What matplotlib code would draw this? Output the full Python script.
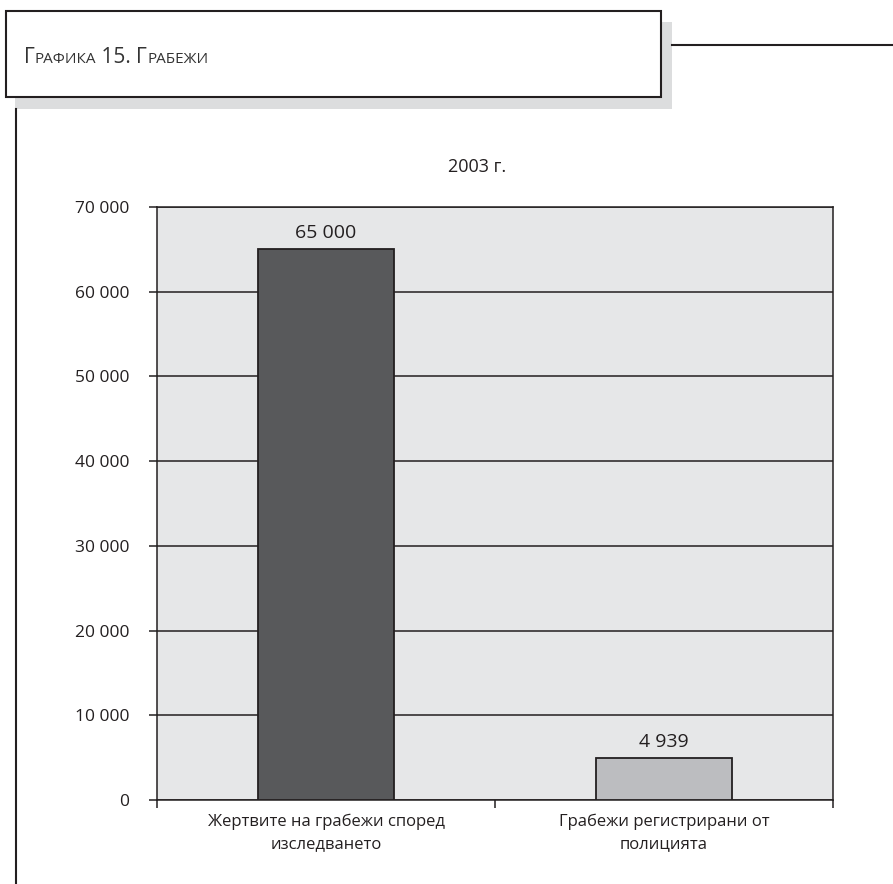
import numpy as np
import matplotlib
matplotlib.use('Agg')
from matplotlib import pyplot as plt
from matplotlib.patches import Rectangle
from matplotlib.lines import Line2D
from matplotlib.ticker import FuncFormatter

plt.rcParams['font.family'] = ['Open Sans', 'DejaVu Sans']

categories = ['Жертвите на грабежи според\nизследването', 'Грабежи регистрирани от\nполицията']
values = [65000, 4939]
bar_colors = ['#58595B', '#BCBDC0']
y_ticks = [0, 10000, 20000, 30000, 40000, 50000, 60000, 70000]
title = '2003 г.'
header = [('Г', 15), ('РАФИКА', 11), (' 15. ', 15), ('Г', 15), ('РАБЕЖИ', 11)]

W, H = 893, 884
fig = plt.figure(figsize=(W / 100, H / 100), dpi=100)


def fx(x):
    return x / W


def fy(y):
    return 1 - y / H


# header box with shadow
fig.patches.append(Rectangle((fx(15), fy(109)), fx(672) - fx(15), fy(22) - fy(109),
                             transform=fig.transFigure, facecolor='#DCDDDE', edgecolor='none', zorder=0))
fig.patches.append(Rectangle((fx(6), fy(97)), fx(661) - fx(6), fy(11) - fy(97),
                             transform=fig.transFigure, facecolor='white', edgecolor='#231F20',
                             linewidth=1.5, zorder=1))
fig.lines.append(Line2D([fx(672), 1], [fy(45), fy(45)], transform=fig.transFigure,
                        color='#231F20', linewidth=1.5))
fig.lines.append(Line2D([fx(16), fx(16)], [fy(109), 0], transform=fig.transFigure,
                        color='#231F20', linewidth=1.5))

# small caps header text, drawn piece by piece
renderer = fig.canvas.get_renderer()
xpos = fx(24)
for txt, size in header:
    t = fig.text(xpos, fy(63), txt, fontsize=size, color='#333333', va='baseline', ha='left', zorder=3)
    bb = t.get_window_extent(renderer=renderer)
    xpos += bb.width / W

ax = fig.add_axes([fx(157), fy(800), fx(833) - fx(157), fy(207) - fy(800)])
ax.set_facecolor('#E6E7E8')

x = np.arange(len(values))
bars = ax.bar(x, values, width=0.4, color=bar_colors, edgecolor='#231F20', linewidth=1.3, zorder=3)
ax.bar_label(bars, labels=[f'{v:,}'.replace(',', ' ') for v in values], padding=5,
             fontsize=14, color='#231F20')

ax.set_xlim(-0.5, 1.5)
ax.set_ylim(0, 70000)
ax.set_yticks(y_ticks)
ax.yaxis.set_major_formatter(FuncFormatter(lambda v, p: f'{int(v):,}'.replace(',', ' ')))
ax.yaxis.grid(True, color='#231F20', linewidth=1.1)
ax.set_axisbelow(True)

ax.set_xticks(x)
ax.set_xticklabels(categories, fontsize=12, color='#231F20', linespacing=1.5)
ax.set_xticks([-0.5, 0.5, 1.5], minor=True)
ax.tick_params(axis='x', which='major', length=0, pad=10)
ax.tick_params(axis='x', which='minor', length=6, width=1.1, color='#231F20', direction='out')
ax.tick_params(axis='y', length=6, width=1.1, color='#231F20', labelsize=12.5, labelcolor='#231F20', pad=14)

for s in ax.spines.values():
    s.set_color('#231F20')
    s.set_linewidth(1.1)

fig.text(fx(477), fy(167), title, fontsize=13, color='#231F20', ha='center', va='center')

fig.savefig('out.png', dpi=100)
